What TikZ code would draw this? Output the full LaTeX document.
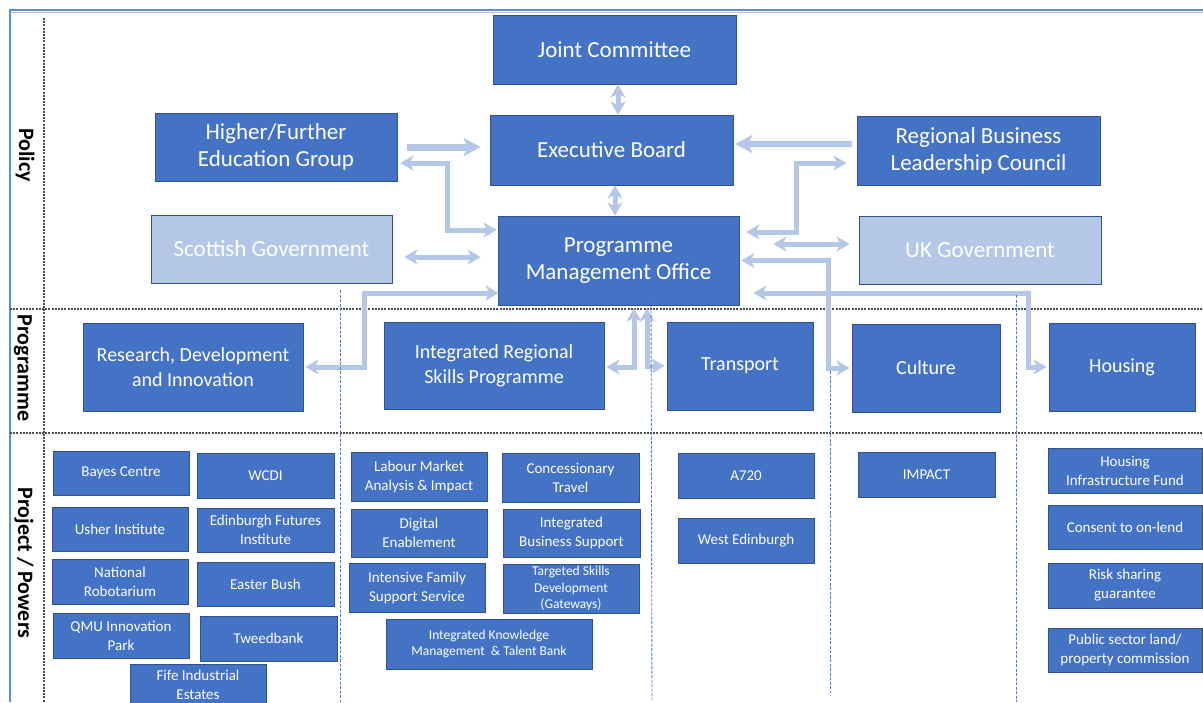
\documentclass[tikz,border=0pt]{standalone}
\usepackage{fontspec}
\setmainfont{Carlito}
\usetikzlibrary{arrows.meta,calc}
\definecolor{boxblue}{HTML}{4472C4}
\definecolor{boxline}{HTML}{2F528F}
\definecolor{lightbox}{HTML}{B4C7E7}
\definecolor{arrowc}{HTML}{B4C7E7}
\definecolor{dashblue}{HTML}{4F7FCC}
\definecolor{framec}{HTML}{5B8FD5}
\tikzset{
  box/.style={draw=boxline, fill=boxblue, text=white, align=center, inner sep=0pt, line width=0.8pt},
  lbox/.style={box, fill=lightbox},
  rc/.style args={#1,#2,#3,#4}{minimum width={(#3-#1)*1pt}, minimum height={(#4-#2)*1pt}, at={({(#1+#3)/2},{(#2+#4)/2})}},
  big/.style={font=\fontsize{23}{27}\selectfont},
  mid/.style={font=\fontsize{20}{25}\selectfont},
  sml/.style={font=\fontsize{15}{19}\selectfont},
  tiny/.style={font=\fontsize{13.5}{16.5}\selectfont},
  rowlab/.style={rotate=-90, font=\bfseries\fontsize{22}{26}\selectfont, text=black, inner sep=0pt},
  arr/.style={draw=arrowc, line width=5pt, >={Stealth[length=13pt,width=15pt,inset=3.5pt]}},
  thickarr/.style={arr, line width=7pt, >={Stealth[length=17pt,width=18pt,inset=4pt]}},
  gdash/.style={draw=black!70, line width=1.3pt, dash pattern=on 2pt off 1.2pt},
  bdash/.style={draw=dashblue, line width=0.9pt, dash pattern=on 3pt off 1.5pt},
}
\begin{document}
\begin{tikzpicture}[x=1pt,y=-1pt]
\clip (0,0) rectangle (1203,702);
\fill[white] (0,0) rectangle (1203,702);
% frame
\draw[black!25, line width=1.5pt] (11,12.5) -- (1203,12.5);
\draw[framec, line width=1.6pt] (10,702) -- (10,10) -- (1203,10);
% grid
\draw[gdash] (44,18) -- (44,702);
\draw[gdash] (10,309) -- (1203,309);
\draw[gdash] (10,433) -- (1203,433);
% row labels
\node[rowlab] (lpol) at (25,155) {Policy};
\node[rowlab] (lprog) at (23,368) {Programme};
\node[rowlab] (lproj) at (24,563) {Project / Powers};
% policy
\node[box, big, rc={493,15,736,84}] (jc) {Joint Committee};
\node[box, big, rc={490,115,733,185}] (eb) {Executive Board};
\node[box, big, rc={498,216,739,305}] (pmo) {Programme\\Management Office};
\node[box, big, rc={155,113,397,181}] (hfeg) {Higher/Further\\Education Group};
\node[lbox, big, rc={151,215,392,283}] (sg) {Scottish Government};
\node[box, big, rc={857,116,1100,185}] (rblc) {Regional Business\\Leadership Council};
\node[lbox, big, rc={859,216,1101,284}] (ukg) {UK Government};
% programme
\node[box, mid, rc={83,323,303,411}] (rdi) {Research, Development\\and Innovation};
\node[box, mid, rc={384,322,604,409}] (irsp) {Integrated Regional\\Skills Programme};
\node[box, mid, rc={667,322,813,410}] (tr) {Transport};
\node[box, mid, rc={852,324,1000,412}] (cu) {Culture};
\node[box, mid, rc={1049,323,1195,411}] (ho) {Housing};
% projects left
\node[box, sml, rc={53,451,189,495}] (bayes) {Bayes Centre};
\node[box, sml, rc={197,453,334,498}] (wcdi) {WCDI};
\node[box, sml, rc={52,507,188,551}] (usher) {Usher Institute};
\node[box, sml, rc={197,508,334,552}] (efi) {Edinburgh Futures\\Institute};
\node[box, sml, rc={52,559,188,604}] (nr) {National\\Robotarium};
\node[box, sml, rc={197,562,334,606}] (eastb) {Easter Bush};
\node[box, sml, rc={53,613,189,658}] (qmu) {QMU Innovation\\Park};
\node[box, sml, rc={200,616,337,661}] (tweed) {Tweedbank};
\node[box, sml, rc={130,664,266,706}] (fife) {Fife Industrial\\Estates};
% projects middle
\node[box, sml, rc={351,452,487,501}] (lma) {Labour Market\\Analysis \& Impact};
\node[box, sml, rc={502,453,639,502}] (ct) {Concessionary\\Travel};
\node[box, sml, rc={351,509,487,557}] (de) {Digital\\Enablement};
\node[box, sml, rc={503,509,640,557}] (ibs) {Integrated\\Business Support};
\node[box, sml, rc={349,563,485,612}] (ifs) {Intensive Family\\Support Service};
\node[box, tiny, rc={503,564,639,613}] (tsd) {Targeted Skills\\Development\\(Gateways)};
\node[box, tiny, rc={386,619,592,669}] (ikm) {Integrated Knowledge\\Management~ \& Talent Bank};
% projects right
\node[box, sml, rc={678,453,814,498}] (a720) {A720};
\node[box, sml, rc={678,518,814,563}] (we) {West Edinburgh};
\node[box, sml, rc={858,452,995,497}] (impact) {IMPACT};
\node[box, sml, rc={1048,448,1202,493}] (hif) {Housing\\Infrastructure Fund};
\node[box, sml, rc={1048,505,1202,549}] (col) {Consent to on-lend};
\node[box, sml, rc={1048,563,1202,608}] (rsg) {Risk sharing\\guarantee};
\node[box, sml, rc={1048,628,1202,672}] (pslp) {Public sector land/\\property commission};
% arrows
\draw[arr,<->] ($(jc.south)+(3.5,0)$) -- ($(eb.north)+(6.5,0)$);
\draw[arr,<->] ($(eb.south)+(3.5,0)$) -- ($(pmo.north)+(-3.5,0)$);
\draw[thickarr,->,shorten <=10pt,shorten >=9pt] (hfeg.east) -- (eb.west |- hfeg.east);
\draw[arr,<->] ($(hfeg.east)+(3,16)$) -| ($(pmo.west)+(-50,-30.5)$) -- ($(pmo.west)+(-1,-30.5)$);
\draw[arr,<->] ($(sg.east)+(12,8)$) -- ($(pmo.west)+(-17,-3.5)$);
\draw[arr,<->] ($(rdi.east)+(2,0)$) -| ($(pmo.west)+(-133,32.5)$) -- ($(pmo.west)+(1,32.5)$);
\draw[thickarr,line width=6.5pt,->] ($(rblc.west)+(-5,-6.5)$) -- ($(eb.east)+(2,-6)$);
\draw[arr,<->] ($(pmo.east)+(7,-28.5)$) -| ($(rblc.west)+(-60,12.5)$) -- ($(rblc.west)+(-10,12.5)$);
\draw[arr,<->] ($(pmo.east)+(34,-16.5)$) -- ($(ukg.west)+(-9,-6)$);
\draw[arr,<->] ($(pmo.east)+(2,0)$) -| ($(cu.west)+(-23,0)$) -- ($(cu.west)+(-2,0)$);
\draw[arr,<->] ($(pmo.east)+(14,32.5)$) -| ($(ho.west)+(-20,0)$) -- ($(ho.west)+(-2,0)$);
\draw[arr,<->] ($(irsp.east)+(2,1.5)$) -| ($(pmo.south)+(15.5,3)$);
\draw[arr,<->] ($(pmo.south)+(28.5,3)$) |- ($(tr.west)+(-2,0)$);
% blue dashed column separators
\draw[bdash] (340,290) -- (340,702);
\draw[bdash] (651,297) -- (652,700);
\draw[bdash] (830,371) -- (830,693);
\draw[bdash] (1016,295) -- (1016,702);
\end{tikzpicture}
\end{document}
